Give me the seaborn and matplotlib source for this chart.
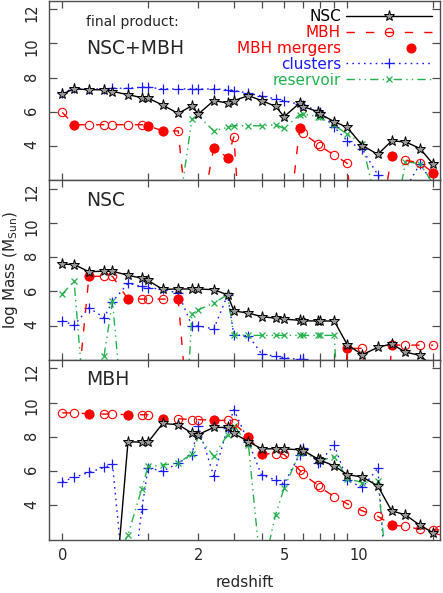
import numpy as np
import matplotlib
matplotlib.use("Agg")
import matplotlib.pyplot as plt
from matplotlib.legend_handler import HandlerLine2DCompound
import seaborn as sns

nan = np.nan

# snapshot redshifts (shared by all panels)
redshift = [0.0, 0.1, 0.24, 0.4, 0.5, 0.7, 0.9, 1.0, 1.25, 1.55, 1.85, 2.0,
            2.4, 2.8, 3.0, 3.5, 4.0, 4.6, 5.0, 5.8, 6.0, 6.9, 7.0, 8.0,
            9.0, 10.3, 11.8, 13.3, 15.0, 17.0, 19.0, 20.0]

# panel 1: final product NSC+MBH
top_nsc = [7.04, 7.33, 7.29, 7.28, 7.18, 7.0, 6.82, 6.79, 6.39, 5.9, 6.35, 5.86,
           6.65, 6.51, 6.65, 6.94, 6.65, 6.32, 5.71, 6.5, 6.3, 6.0, 5.88, 5.42,
           5.08, 4.02, 3.51, 4.29, 4.24, 3.85, 2.94, nan]
top_mbh = [5.96, 5.24, 5.24, 5.24, 5.24, 5.24, 5.24, 5.18, 4.88, 4.88, -3, -1,
           3.9, 3.32, 4.53, -8, nan, nan, -3, 5.02, 4.73, 4.1, 4.0, 3.47,
           2.98, -8, -1.4, 3.41, 3.16, 3.02, 2.44, nan]
top_clusters = [7.1, 7.37, 7.33, 7.33, 7.37, 7.37, 7.43, 7.43, 7.33, 7.33, 7.33, 7.33,
                7.33, 7.29, 7.24, 7.08, 6.92, 6.75, 6.63, 6.43, 6.39, 6.04, 6.0, 5.1,
                4.29, 3.8, 2.3, 0.5, 1.5, 2.96, 1.8, nan]
top_reservoir = [nan, nan, nan, nan, nan, nan, nan, nan, nan, 0.0, 5.57, 5.78,
                 4.88, 5.08, 5.18, 5.18, 5.18, 5.24, 5.02, 5.82, 5.86, 5.71, 5.67, 5.2,
                 4.69, 4.14, 0.2, -1.5, 3.08, 2.96, 1.8, nan]
top_merger_z = [0.1, 1.0, 1.25, 2.4, 2.8, 5.8, 13.3, 19.0]
top_merger_m = [5.24, 5.18, 4.88, 3.9, 3.32, 5.02, 3.41, 2.44]

# panel 2: NSC
nsc_nsc = [7.59, 7.57, 7.15, 7.18, 7.18, 6.94, 6.77, 6.64, 6.12, 6.14, 6.14, 6.14,
           6.1, 5.8, 4.86, 4.73, 4.53, 4.43, 4.38, 4.31, 4.28, 4.27, 4.27, 4.27,
           2.88, 2.3, 2.73, 2.93, 2.45, 2.26, 1.6, nan]
nsc_mbh = [nan, -2, 6.88, 6.88, 6.88, 5.55, 5.55, 5.55, 5.55, 5.55, -4, nan,
           nan, nan, nan, nan, nan, nan, nan, nan, nan, nan, nan, -10,
           2.67, 2.67, -10, 2.86, 2.86, 2.86, 2.86, nan]
nsc_clusters = [4.28, 4.02, 5.04, 4.47, 5.4, 6.47, 6.29, 6.22, 6.12, 5.9, 3.99, 3.99,
                3.8, 5.78, 3.45, 3.41, 2.35, 2.2, 2.12, 2.02, 2.02, nan, nan, nan,
                nan, nan, nan, nan, nan, nan, nan, nan]
nsc_reservoir = [5.85, 6.59, -4, 2.2, 5.41, -4.6, nan, nan, nan, -10, 4.7, 4.92,
                 5.32, 5.8, 3.45, 3.43, 3.43, 3.43, 3.43, 3.43, 3.43, 3.43, 3.43, 3.43,
                 -10, nan, nan, nan, nan, nan, nan, nan]
nsc_merger_z = [0.24, 0.7, 1.55, 9.0, 13.3]
nsc_merger_m = [6.88, 5.55, 5.55, 2.67, 2.86]

# panel 3: MBH
bh_nsc = [nan, nan, nan, nan, -3, 7.71, 7.69, 7.69, 8.78, 8.71, 8.22, 8.13,
          8.55, 8.55, 8.2, 7.72, 7.3, 7.3, 7.3, 7.24, 7.2, 6.7, 6.65, 6.3,
          5.79, 5.65, 5.13, 3.68, 3.44, 2.83, 2.4, nan]
bh_mbh = [9.4, 9.4, 9.35, 9.33, 9.33, 9.29, 9.29, 9.29, 9.06, 9.06, 9.01, 9.01,
          8.96, 8.96, 8.81, 8.0, 7.01, 7.01, 6.97, 6.06, 5.8, 5.17, 5.07, 4.5,
          4.08, 3.67, 3.36, 2.85, 2.76, 2.6, 2.56, 2.56]
bh_clusters = [5.38, 5.63, 5.92, 6.21, 6.39, -3, 3.76, 6.19, 5.99, 6.46, 6.96, 8.63,
               5.7, 8.52, 9.59, 7.7, 5.77, 5.48, 5.25, 6.96, 7.37, 6.5, 6.55, 7.5,
               5.46, 5.05, 6.16, -5, nan, nan, nan, nan]
bh_reservoir = [nan, nan, nan, nan, 0.5, 2.27, 4.97, 6.27, 6.35, 6.48, 7.0, 8.03,
                6.86, 8.13, 8.66, 7.5, -0.2, 3.44, 4.99, 7.06, 7.11, 6.64, 6.6, 6.84,
                5.56, 5.33, 5.41, -2.5, nan, nan, nan, nan]
bh_merger_z = [0.24, 0.7, 1.25, 2.4, 3.5, 4.0, 13.3]
bh_merger_m = [9.35, 9.29, 9.06, 8.96, 8.0, 7.01, 2.85]

panels = [
    ("NSC+MBH", top_nsc, top_mbh, top_clusters, top_reservoir, top_merger_z, top_merger_m),
    ("NSC", nsc_nsc, nsc_mbh, nsc_clusters, nsc_reservoir, nsc_merger_z, nsc_merger_m),
    ("MBH", bh_nsc, bh_mbh, bh_clusters, bh_reservoir, bh_merger_z, bh_merger_m),
]

RED = "#ff0000"
BLUE = "#1a1aff"
GREEN = "#22b24c"

sns.set_style("ticks")
plt.rcParams["font.family"] = ["DejaVu Sans"]


class RightMarker(HandlerLine2DCompound):
    # put the single marker towards the right end of the handle
    def get_xdata(self, legend, xdescent, ydescent, width, height, fontsize):
        xdata, _ = super().get_xdata(legend, xdescent, ydescent, width, height, fontsize)
        return xdata, np.array([-xdescent + 0.76 * width])


def fwd(z):
    return np.log10(1 + np.asarray(z, dtype=float))


def inv(x):
    return 10 ** np.asarray(x, dtype=float) - 1


fig, axes = plt.subplots(3, 1, figsize=(4.43, 5.93), dpi=100, sharex=True, sharey=True,
                         gridspec_kw=dict(hspace=0))
fig.subplots_adjust(left=49 / 443, right=440 / 443, top=1 - 0.5 / 593, bottom=1 - 539.5 / 593)

for i, (name, nsc, mbh, clus, res, mz, mm) in enumerate(panels):
    ax = axes[i]
    ax.set_xscale("function", functions=(fwd, inv))
    lab = (i == 0)

    sns.lineplot(x=redshift, y=clus, ax=ax, color=BLUE, linewidth=1.0,
                 linestyle=(0, (1.2, 3)), marker="+", markersize=7,
                 markeredgecolor=BLUE, markeredgewidth=0.9,
                 label="clusters" if lab else None, legend=False)
    sns.lineplot(x=redshift, y=res, ax=ax, color=GREEN, linewidth=1.0,
                 linestyle=(0, (6, 3, 1, 3, 1, 3)), marker="x", markersize=5,
                 markeredgecolor=GREEN, markeredgewidth=0.9,
                 label="reservoir" if lab else None, legend=False)
    sns.lineplot(x=redshift, y=mbh, ax=ax, color=RED, linewidth=1.0,
                 linestyle=(0, (6, 8)), marker="o", markersize=6,
                 markerfacecolor="none", markeredgecolor=RED, markeredgewidth=0.8,
                 label="MBH" if lab else None, legend=False)
    sns.lineplot(x=mz, y=mm, ax=ax, color=RED, linestyle="none", marker="o",
                 markersize=6.5, markerfacecolor=RED, markeredgecolor=RED,
                 label="MBH mergers" if lab else None, legend=False)
    sns.lineplot(x=redshift, y=nsc, ax=ax, color="black", linewidth=1.0,
                 marker="*", markersize=8, markerfacecolor="0.6",
                 markeredgecolor="black", markeredgewidth=0.7,
                 label="NSC" if lab else None, legend=False)

    ax.set_xlim(-0.102, 20.15)
    ax.set_ylim(2.0, 12.5)
    ax.set_yticks([4, 6, 8, 10, 12])
    ax.set_xticks([0, 2, 5, 10])
    ax.set_xticklabels(["0", "2", "5", "10"])
    ax.set_xticks([0, 1, 2, 3, 4, 5, 6, 7, 8, 9, 19], minor=True)
    ax.xaxis.remove_overlapping_locs = False
    ax.yaxis.set_minor_locator(matplotlib.ticker.NullLocator())
    ax.tick_params(which="both", direction="in", top=True, right=True,
                   color="0.3", labelsize=10.5, width=0.9)
    ax.tick_params(axis="y", which="major", length=6, labelrotation=90, pad=7)
    ax.tick_params(axis="x", which="major", length=0, pad=6)
    ax.tick_params(axis="x", which="minor", length=5)
    for sp in ax.spines.values():
        sp.set_color("0.3")
        sp.set_linewidth(1.0)
    ax.set_xlabel("")
    ax.set_ylabel("")
    ax.text(0.095, 0.889 if i else 0.733, name, transform=ax.transAxes,
            fontsize=13.5, color="0.15", ha="left", va="center")

axes[0].text(0.095, 0.878, "final product:", transform=axes[0].transAxes,
             fontsize=10, color="0.15", ha="left", va="center")

handles, labels = axes[0].get_legend_handles_labels()
order = ["NSC", "MBH", "MBH mergers", "clusters", "reservoir"]
hmap = dict(zip(labels, handles))
axes[0].legend([hmap[k] for k in order], order, loc="upper right",
               bbox_to_anchor=(0.9795, 0.95), borderpad=0, borderaxespad=0,
               frameon=False, markerfirst=False, handlelength=5.6,
               handletextpad=0.35, labelspacing=0.05, fontsize=11,
               numpoints=1, labelcolor="linecolor",
               handler_map={hmap["MBH mergers"]: RightMarker()})

axes[2].set_xlabel("redshift", fontsize=11, labelpad=9)
axes[1].set_ylabel("log Mass (M$_{\\rm Sun}$)", fontsize=11, labelpad=3)

fig.savefig("out.png", dpi=100)
